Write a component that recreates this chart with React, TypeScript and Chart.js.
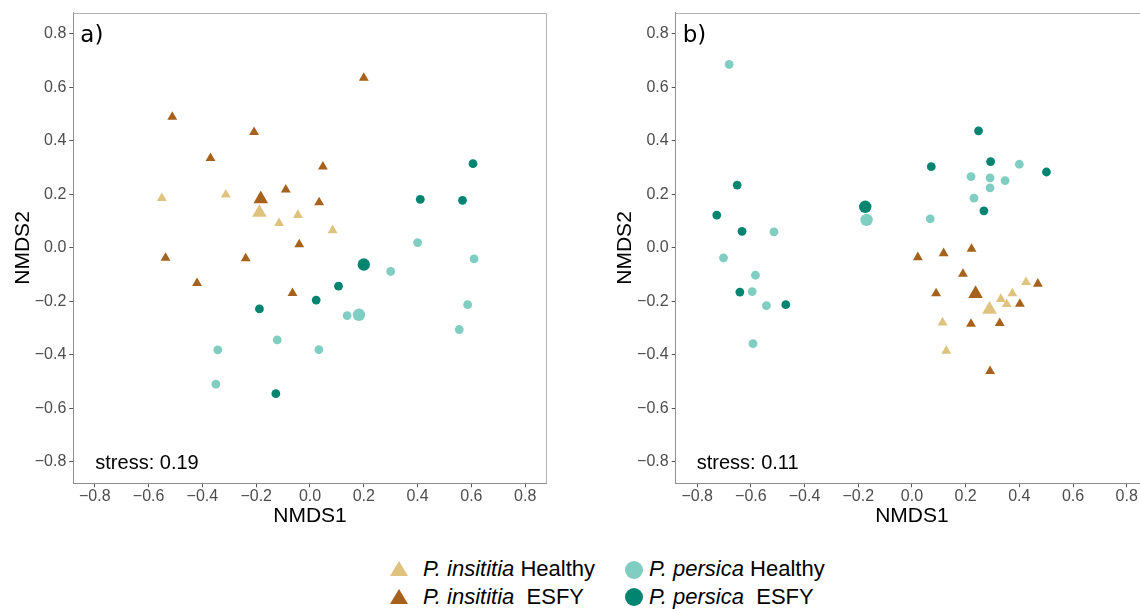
import React, { useEffect, useRef } from 'react';
import { Chart, registerables } from 'chart.js';

Chart.register(...registerables);

// ---------- data ----------
const tickValues = [-0.8, -0.6, -0.4, -0.2, 0.0, 0.2, 0.4, 0.6, 0.8];
const axisMin = -0.88;
const axisMax = 0.88;

// Panel a
const aInsititiaHealthy = [[-0.551, 0.186], [-0.313, 0.199], [-0.045, 0.123], [-0.115, 0.093], [0.084, 0.066]];
const aInsititiaHealthyCentroid = [[-0.188, 0.132]];
const aInsititiaESFY = [[0.2, 0.636], [-0.512, 0.49], [-0.208, 0.433], [-0.37, 0.336], [0.048, 0.304], [-0.09, 0.218], [0.034, 0.17], [-0.04, 0.013], [-0.537, -0.037], [-0.239, -0.039], [-0.42, -0.132], [-0.065, -0.169]];
const aInsititiaESFYCentroid = [[-0.183, 0.183]];
const aPersicaHealthy = [[0.4, 0.02], [0.61, -0.041], [0.3, -0.088], [0.586, -0.212], [0.138, -0.253], [0.555, -0.305], [-0.122, -0.344], [-0.343, -0.381], [0.033, -0.38], [-0.35, -0.509]];
const aPersicaHealthyCentroid = [[0.182, -0.25]];
const aPersicaESFY = [[0.606, 0.315], [0.41, 0.182], [0.567, 0.178], [0.106, -0.143], [0.023, -0.195], [-0.188, -0.228], [-0.127, -0.545]];
const aPersicaESFYCentroid = [[0.2, -0.062]];

// Panel b
const bInsititiaHealthy = [[0.425, -0.128], [0.374, -0.17], [0.331, -0.191], [0.353, -0.21], [0.114, -0.279], [0.128, -0.385]];
const bInsititiaHealthyCentroid = [[0.289, -0.23]];
const bInsititiaESFY = [[0.222, -0.004], [0.118, -0.02], [0.022, -0.035], [0.19, -0.097], [0.469, -0.134], [0.09, -0.17], [0.402, -0.209], [0.22, -0.284], [0.327, -0.281], [0.291, -0.461]];
const bInsititiaESFYCentroid = [[0.237, -0.171]];
const bPersicaHealthy = [[-0.681, 0.686], [0.22, 0.267], [0.291, 0.262], [0.4, 0.313], [0.347, 0.252], [0.291, 0.225], [0.231, 0.186], [0.068, 0.109], [-0.514, 0.06], [-0.702, -0.037], [-0.583, -0.102], [-0.595, -0.163], [-0.542, -0.216], [-0.592, -0.358]];
const bPersicaHealthyCentroid = [[-0.169, 0.105]];
const bPersicaESFY = [[0.248, 0.438], [0.293, 0.323], [0.072, 0.304], [0.501, 0.284], [-0.651, 0.235], [0.268, 0.139], [-0.727, 0.123], [-0.633, 0.062], [-0.641, -0.165], [-0.47, -0.212]];
const bPersicaESFYCentroid = [[-0.174, 0.154]];

const panelLabels = ['a)', 'b)'];
const stressLabels = ['stress: 0.19', 'stress: 0.11'];
const legendLabels = [
  ['P. insititia', ' Healthy'],
  ['P. insititia', '  ESFY'],
  ['P. persica', ' Healthy'],
  ['P. persica', '  ESFY'],
];

// ---------- style ----------
const COL_INS_H = '#DFC27D';
const COL_INS_E = '#A6611A';
const COL_PER_H = '#80CDC1';
const COL_PER_E = '#018571';
const TICK_FONT = { family: 'Liberation Sans, Arial, sans-serif', size: 16, lineHeight: 1.2 };
const TITLE_FONT = { family: 'Liberation Sans, Arial, sans-serif', size: 21, lineHeight: 1.2 };

const fmt = (v: number) => {
  const s = Math.abs(v).toFixed(1);
  return v < -1e-9 ? '\u2212' + s : s;
};

const toPts = (arr: number[][]) => arr.map(([x, y]) => ({ x, y }));

function ds(data: number[][], style: string, radius: number, color: string) {
  return {
    data: toPts(data),
    pointStyle: style,
    pointRadius: radius,
    pointHoverRadius: radius,
    pointBackgroundColor: color,
    pointBorderColor: color,
    pointBorderWidth: 0,
    showLine: false,
  };
}

const framePlugin = {
  id: 'frameAndText',
  beforeDatasetsDraw(chart: any) {
    const { ctx, chartArea: a } = chart;
    ctx.save();
    ctx.strokeStyle = '#b3b3b3';
    ctx.lineWidth = 1;
    ctx.beginPath();
    const top = Math.round(a.top) + 0.5;
    const right = Math.round(a.right) - 0.5;
    ctx.moveTo(a.left, top);
    ctx.lineTo(right, top);
    ctx.lineTo(right, a.bottom);
    ctx.stroke();
    ctx.restore();
  },
  afterDatasetsDraw(chart: any, _args: any, opts: any) {
    const { ctx, chartArea: a } = chart;
    ctx.save();
    ctx.fillStyle = '#000';
    ctx.textBaseline = 'middle';
    ctx.textAlign = 'left';
    ctx.font = '23px "DejaVu Sans", sans-serif';
    ctx.fillText(opts.label, a.left + 7, a.top + 23);
    ctx.font = '20px "Liberation Sans", Arial, sans-serif';
    ctx.fillText(opts.stress, a.left + opts.stressDx, a.bottom - 20);
    ctx.restore();
  },
};

type PanelCfg = {
  datasets: any[];
  yWidth: number;
  padRight: number;
  yTitlePad: number;
  label: string;
  stress: string;
  stressDx: number;
};

function makeScale(isX: boolean, cfg: PanelCfg) {
  return {
    type: 'linear',
    position: isX ? 'bottom' : 'left',
    min: axisMin,
    max: axisMax,
    afterBuildTicks: (s: any) => {
      s.ticks = tickValues.map((v) => ({ value: v }));
    },
    afterFit: (s: any) => {
      if (isX) s.height = 56.7;
      else s.width = cfg.yWidth;
    },
    ticks: {
      font: TICK_FONT,
      color: '#4d4d4d',
      padding: isX ? 0 : 3,
      autoSkip: false,
      maxRotation: 0,
      callback: (v: any) => fmt(Number(v)),
    },
    grid: {
      display: true,
      drawOnChartArea: false,
      drawTicks: true,
      tickLength: 4,
      color: '#555555',
      tickColor: '#555555',
      lineWidth: 1,
    },
    border: { display: true, color: '#8f8f8f', width: 1 },
    title: {
      display: true,
      text: isX ? 'NMDS1' : 'NMDS2',
      color: '#000',
      font: TITLE_FONT,
      padding: isX ? { top: 0, bottom: 11.4 } : { top: cfg.yTitlePad, bottom: 0 },
    },
  };
}

function Panel({ cfg, left }: { cfg: PanelCfg; left: number }) {
  const ref = useRef<HTMLCanvasElement | null>(null);
  useEffect(() => {
    if (!ref.current) return;
    const chart = new Chart(ref.current, {
      type: 'scatter',
      data: { datasets: cfg.datasets },
      options: {
        animation: false,
        responsive: false,
        devicePixelRatio: 1,
        events: [],
        layout: { padding: { left: 0, right: cfg.padRight, top: 11, bottom: 0 } },
        plugins: {
          legend: { display: false },
          tooltip: { enabled: false },
          frameAndText: { label: cfg.label, stress: cfg.stress, stressDx: cfg.stressDx },
        } as any,
        scales: {
          x: makeScale(true, cfg) as any,
          y: makeScale(false, cfg) as any,
        },
      },
      plugins: [framePlugin as any],
    });
    return () => chart.destroy();
  }, []);
  return (
    <canvas
      ref={ref}
      width={560}
      height={540}
      style={{ position: 'absolute', left, top: 0, width: 560, height: 540 }}
    />
  );
}

const SMALL_C = 4.4;
const BIG_C = 6.2;
const SMALL_T = 5.7;
const BIG_T = 8.4;

const panelA: PanelCfg = {
  datasets: [
    ds(aPersicaHealthyCentroid, 'circle', BIG_C, COL_PER_H),
    ds(aPersicaESFYCentroid, 'circle', BIG_C, COL_PER_E),
    ds(aInsititiaHealthyCentroid, 'triangle', BIG_T, COL_INS_H),
    ds(aInsititiaESFYCentroid, 'triangle', BIG_T, COL_INS_E),
    ds(aPersicaHealthy, 'circle', SMALL_C, COL_PER_H),
    ds(aPersicaESFY, 'circle', SMALL_C, COL_PER_E),
    ds(aInsititiaHealthy, 'triangle', SMALL_T, COL_INS_H),
    ds(aInsititiaESFY, 'triangle', SMALL_T, COL_INS_E),
  ],
  yWidth: 73.3,
  padRight: 13.3,
  yTitlePad: 10.4,
  label: panelLabels[0],
  stress: stressLabels[0],
  stressDx: 22,
};

const panelB: PanelCfg = {
  datasets: [
    ds(bPersicaHealthyCentroid, 'circle', BIG_C, COL_PER_H),
    ds(bPersicaESFYCentroid, 'circle', BIG_C, COL_PER_E),
    ds(bInsititiaHealthyCentroid, 'triangle', BIG_T, COL_INS_H),
    ds(bInsititiaESFYCentroid, 'triangle', BIG_T, COL_INS_E),
    ds(bPersicaHealthy, 'circle', SMALL_C, COL_PER_H),
    ds(bPersicaESFY, 'circle', SMALL_C, COL_PER_E),
    ds(bInsititiaHealthy, 'triangle', SMALL_T, COL_INS_H),
    ds(bInsititiaESFY, 'triangle', SMALL_T, COL_INS_E),
  ],
  yWidth: 75.7,
  padRight: 11.8,
  yTitlePad: 12.4,
  label: panelLabels[1],
  stress: stressLabels[1],
  stressDx: 21,
};

function Marker({ kind, color, cx, cy }: { kind: string; color: string; cx: number; cy: number }) {
  const s = 20;
  return (
    <svg
      width={s}
      height={s}
      style={{ position: 'absolute', left: cx - s / 2, top: cy - s / 2 }}
    >
      {kind === 'triangle' ? (
        <polygon points="1,17 19,17 10,2" fill={color} />
      ) : (
        <circle cx={10} cy={10} r={9} fill={color} />
      )}
    </svg>
  );
}

function LegendText({ x, y, parts }: { x: number; y: number; parts: string[] }) {
  return (
    <div
      style={{
        position: 'absolute',
        left: x,
        top: y - 14,
        height: 28,
        lineHeight: '28px',
        fontFamily: '"Liberation Sans", Arial, sans-serif',
        fontSize: 22,
        color: '#000',
        whiteSpace: 'pre',
      }}
    >
      <i>{parts[0]}</i>
      {parts[1]}
    </div>
  );
}

export default function App() {
  return (
    <div
      style={{
        position: 'fixed',
        left: 0,
        top: 0,
        width: 1140,
        height: 609,
        overflow: 'hidden',
        background: '#fff',
      }}
    >
      <Panel cfg={panelA} left={0} />
      <Panel cfg={panelB} left={600} />
      <Marker kind="triangle" color={COL_INS_H} cx={399} cy={569} />
      <Marker kind="triangle" color={COL_INS_E} cx={399} cy={597} />
      <Marker kind="circle" color={COL_PER_H} cx={634} cy={570} />
      <Marker kind="circle" color={COL_PER_E} cx={634} cy={597} />
      <LegendText x={423} y={569} parts={legendLabels[0]} />
      <LegendText x={423} y={597} parts={legendLabels[1]} />
      <LegendText x={649} y={569} parts={legendLabels[2]} />
      <LegendText x={649} y={597} parts={legendLabels[3]} />
    </div>
  );
}
